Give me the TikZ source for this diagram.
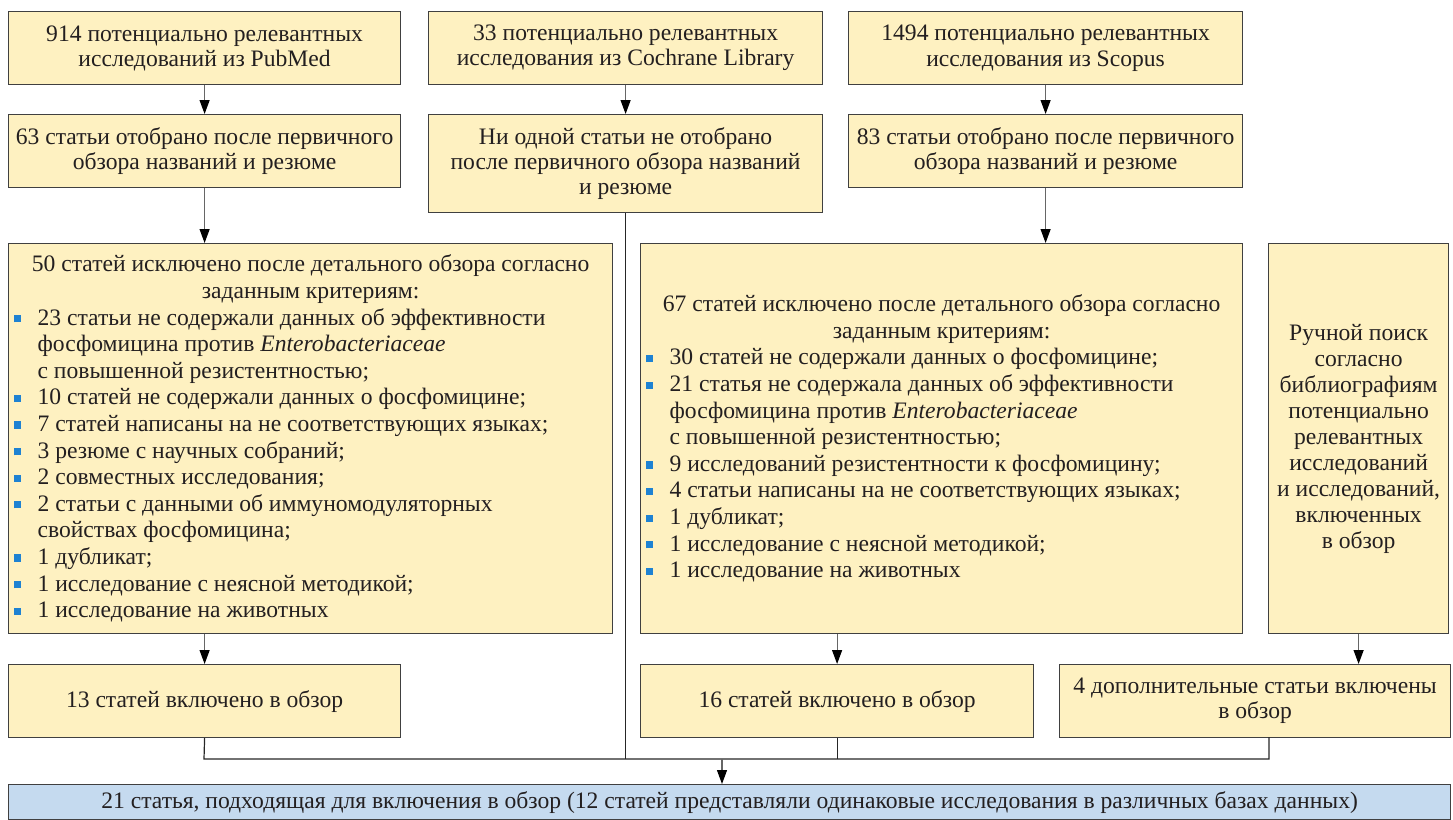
\documentclass[tikz,border=0pt]{standalone}
\usepackage{fontspec}
\setmainfont{Liberation Serif}
\usepackage{xcolor}
\usepackage{tikz}
\usetikzlibrary{arrows.meta,calc}
\definecolor{boxyellow}{RGB}{254,241,193}
\definecolor{boxblue}{RGB}{197,218,239}
\definecolor{boxline}{RGB}{64,64,64}
\definecolor{bulletblue}{RGB}{30,130,210}
\definecolor{inkgray}{RGB}{35,31,32}
\newcommand{\itm}[1]{\par\hangindent=13pt\hangafter=1\noindent
  \makebox[13pt][l]{\hspace{1.2pt}\textcolor{bulletblue}{\raisebox{1.4pt}{\rule{3.6pt}{3.6pt}}}}#1}

\begin{document}
\begin{tikzpicture}[
    x=0.5pt, y=-0.5pt,
    font=\fontsize{11.8}{12.6}\selectfont, text=inkgray,
    box/.style={rectangle, draw=boxline, line width=0.6pt, fill=boxyellow, anchor=north west,
      inner sep=1.5pt, minimum width=196pt, minimum height=36.5pt, align=center},
    listbox/.style={box, align=none, minimum height=195pt, font=\fontsize{11.8}{13.3}\selectfont},
    finalbox/.style={box, fill=boxblue, minimum width=721pt, minimum height=17.5pt},
    arr/.style={draw=black!60, line width=0.6pt, -{Triangle[length=7pt, width=5pt, color=black]}},
    link/.style={draw=black!85, line width=0.6pt}
]
    \useasboundingbox (0,0) rectangle (1453,820);

    % sources
    \node[box] (pub1) at (8,11) {914 потенциально релевантных\\исследований из PubMed};
    \node[box, minimum width=197pt] (coch1) at (428,11) {33 потенциально релевантных\\исследования из Cochrane Library};
    \node[box, minimum width=197pt] (sco1) at (848,11) {1494 потенциально релевантных\\исследования из Scopus};

    % first screening
    \node[box] (pub2) at (8,114) {63 статьи отобрано после первичного\\обзора названий и резюме};
    \node[box, minimum width=197pt, minimum height=49pt] (coch2) at (428,114) {Ни одной статьи не отобрано\\после первичного обзора названий\\и резюме};
    \node[box, minimum width=197pt] (sco2) at (848,114) {83 статьи отобрано после первичного\\обзора названий и резюме};

    % detailed review
    \node[listbox, minimum width=302pt, text width=299pt] (pub3) at (8,243) {%
        {\centering 50 статей исключено после детального обзора согласно\\заданным критериям:\par}
        \raggedright
        \itm{23 статьи не содержали данных об эффективности\newline фосфомицина против \textit{Enterobacteriaceae}\newline с повышенной резистентностью;}
        \itm{10 статей не содержали данных о фосфомицине;}
        \itm{7 статей написаны на не соответствующих языках;}
        \itm{3 резюме с научных собраний;}
        \itm{2 совместных исследования;}
        \itm{2 статьи с данными об иммуномодуляторных\newline свойствах фосфомицина;}
        \itm{1 дубликат;}
        \itm{1 исследование с неясной методикой;}
        \itm{1 исследование на животных}\par};
    \node[listbox, minimum width=301pt, text width=298pt] (sco3) at (640,243) {%
        {\centering 67 статей исключено после детального обзора согласно\\заданным критериям:\par}
        \raggedright
        \itm{30 статей не содержали данных о фосфомицине;}
        \itm{21 статья не содержала данных об эффективности\newline фосфомицина против \textit{Enterobacteriaceae}\newline с повышенной резистентностью;}
        \itm{9 исследований резистентности к фосфомицину;}
        \itm{4 статьи написаны на не соответствующих языках;}
        \itm{1 дубликат;}
        \itm{1 исследование с неясной методикой;}
        \itm{1 исследование на животных}\par};
    \node[box, minimum width=90pt, minimum height=195pt, font=\fontsize{11.8}{13}\selectfont] (manual) at (1268,243)
        {Ручной поиск\\согласно\\библиографиям\\потенциально\\релевантных\\исследований\\и исследований,\\включенных\\в обзор};

    % included
    \node[box] (pub4) at (8,664) {13 статей включено в обзор};
    \node[box, minimum width=196.5pt] (sco4) at (640,664) {16 статей включено в обзор};
    \node[box, minimum width=195.5pt] (add4) at (1059,664) {4 дополнительные статьи включены\\в обзор};

    \node[finalbox] (final) at (8,784) {21 статья, подходящая для включения в обзор (12 статей представляли одинаковые исследования в различных базах данных)};

    \draw[arr] (pub1) -- (pub2);
    \draw[arr] (coch1) -- (coch2);
    \draw[arr] (sco1) -- (sco2);
    \draw[arr] (pub2.south) -- (pub2.south |- pub3.north);
    \draw[arr] (sco2.south) -- (sco2.south |- sco3.north);
    \draw[arr] (pub4.north |- pub3.south) -- (pub4.north);
    \draw[arr] (sco4.north |- sco3.south) -- (sco4.north);
    \draw[arr] (manual.south) -- (manual.south |- add4.north);

    % collecting line
    \coordinate (busL) at (204,759);
    \coordinate (busR) at (1269,759);
    \coordinate (busM) at (722,759);
    \coordinate (addfoot) at (1269,737);
    \draw[link] (pub4.south) -- (busL) -- (busR) -- (addfoot);
    \draw[link] (coch2.south) -- (coch2.south |- busL);
    \draw[link] (sco4.south) -- (sco4.south |- busL);
    \draw[arr] (busM) -- (busM |- final.north);
\end{tikzpicture}
\end{document}
